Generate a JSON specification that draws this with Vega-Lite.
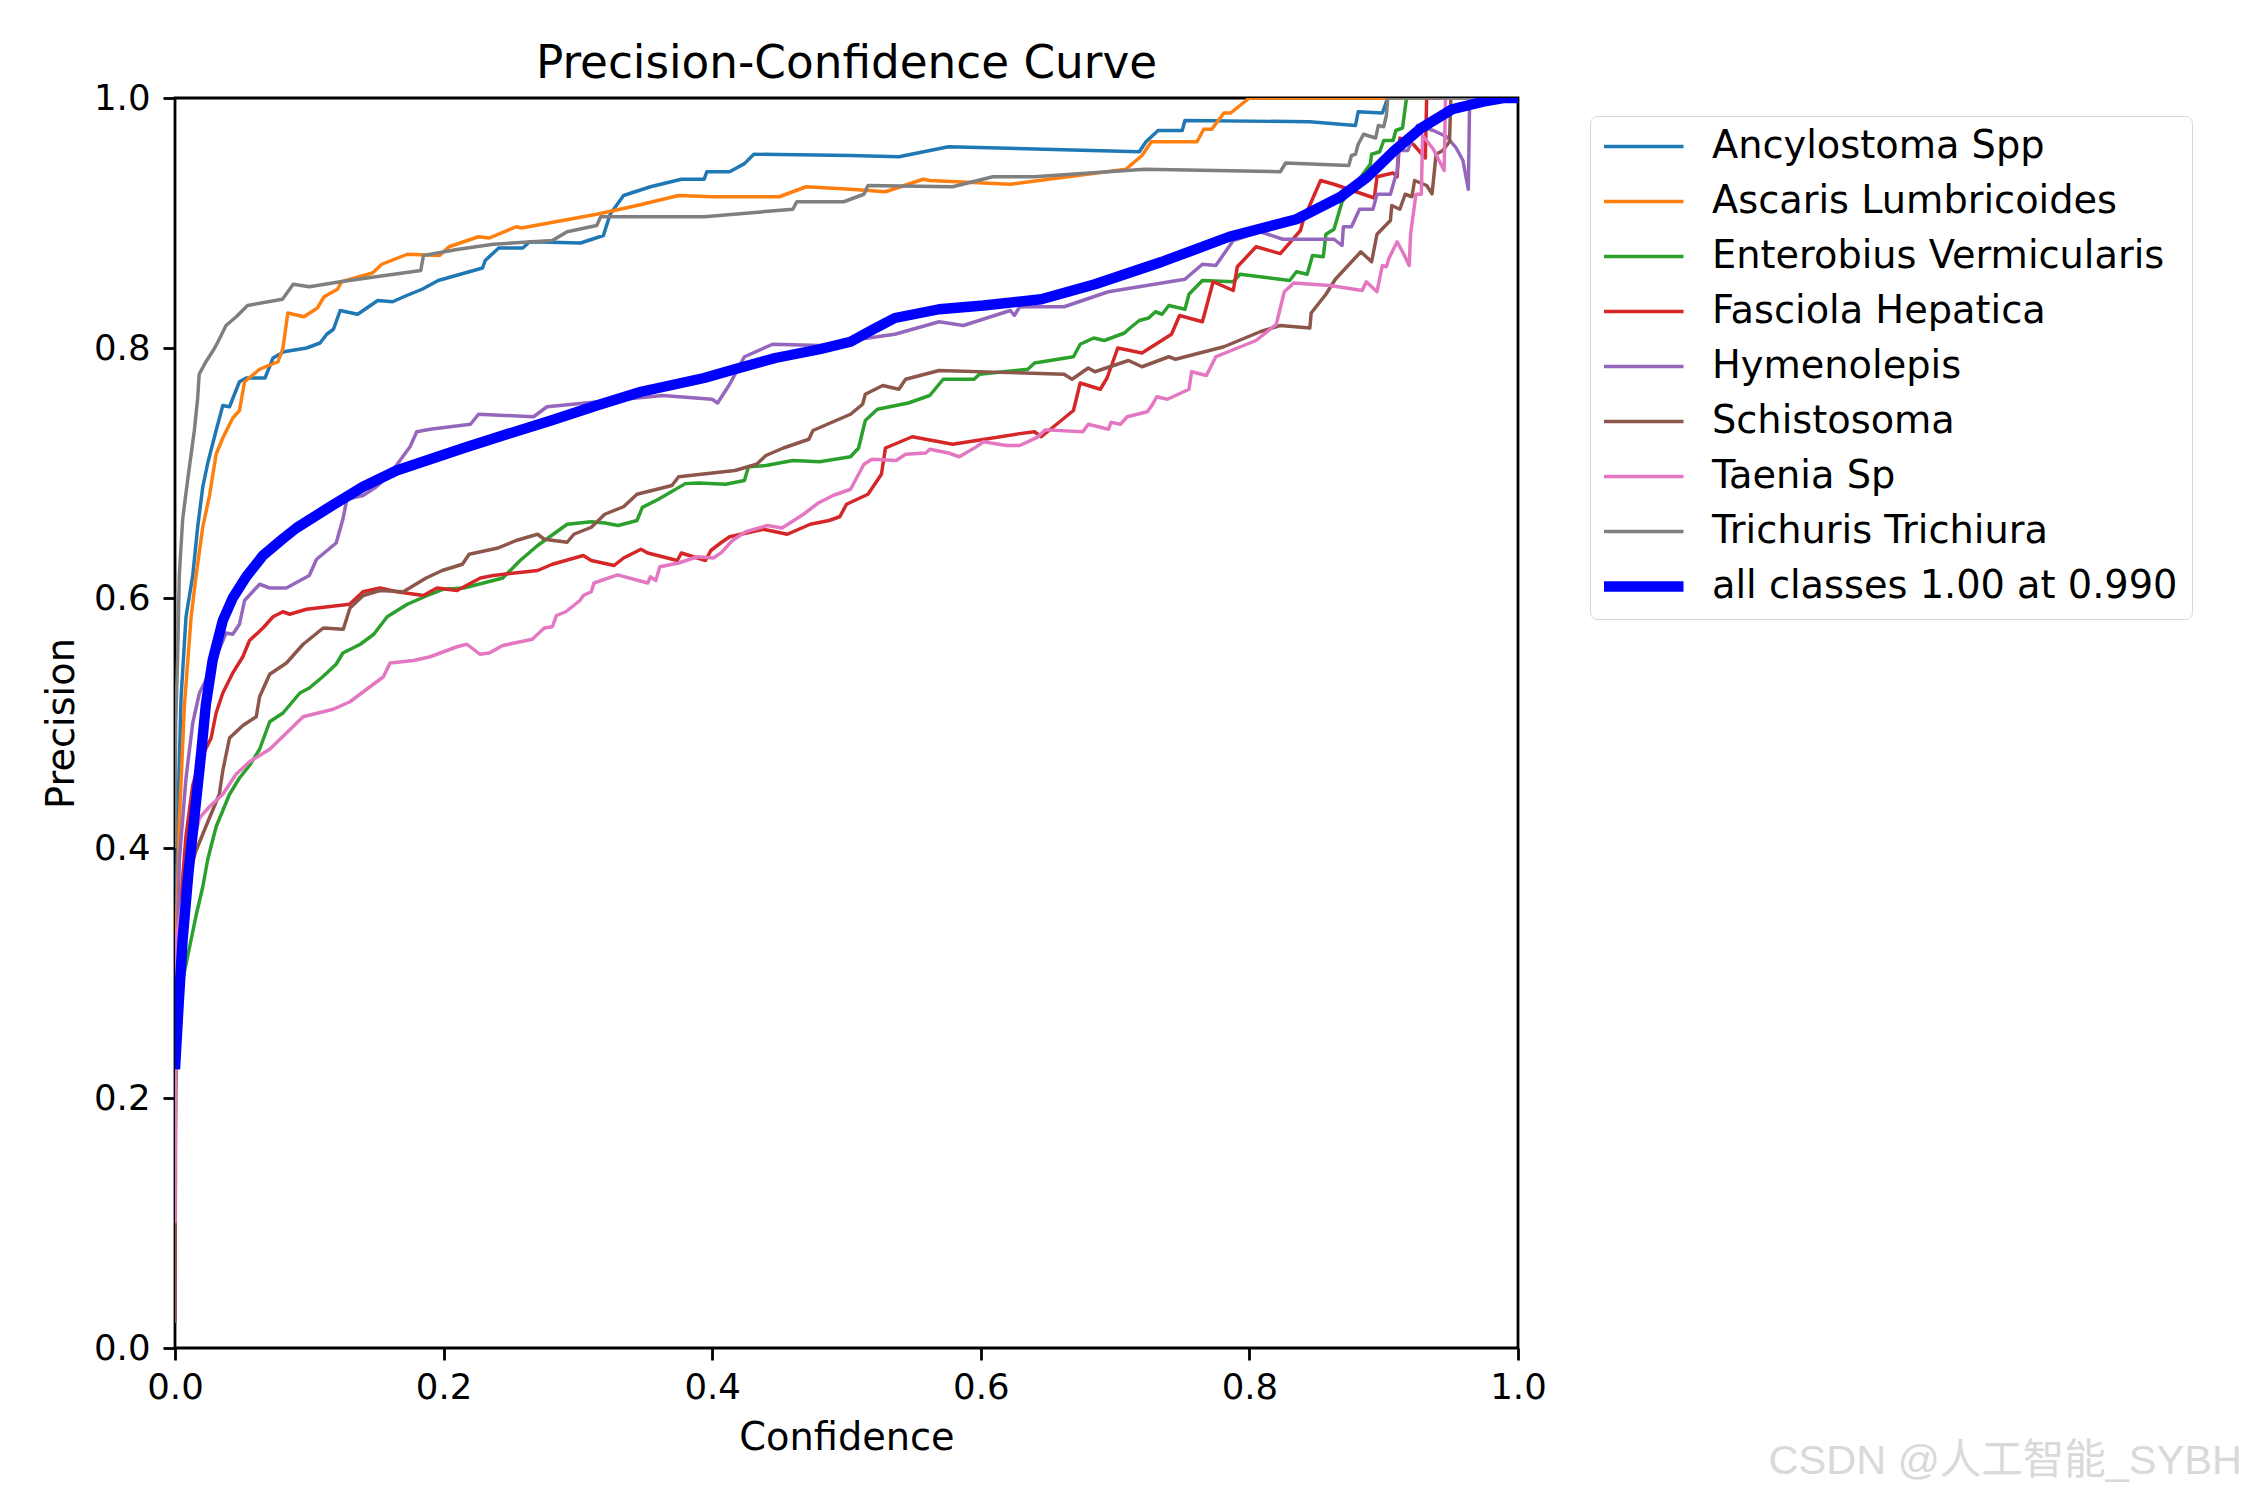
{
  "$schema": "https://vega.github.io/schema/vega-lite/v6.json",
  "width": 1343,
  "height": 1250,
  "autosize": {"type": "none"},
  "padding": {"left": 175, "top": 98, "right": 732, "bottom": 152},
  "background": "white",
  "config": {
    "view": {"stroke": "black", "strokeWidth": 2.8},
    "font": "DejaVu Sans",
    "axis": {
      "domain": false, "grid": false, "ticks": true, "tickSize": 12, "tickWidth": 2.8, "tickColor": "black",
      "labelFontSize": 35.5, "labelFont": "DejaVu Sans", "labelColor": "black",
      "titleFontSize": 38.3, "titleFont": "DejaVu Sans", "titleFontWeight": "normal", "titleColor": "black",
      "labelFlush": false
    }
  },
  "title": {"text": "Precision-Confidence Curve", "fontSize": 45.3, "fontWeight": "normal", "font": "DejaVu Sans", "color": "black", "anchor": "middle", "offset": -6},
  "datasets": {
    "curves": [
      {"cls":"Ancylostoma Spp","conf":0,"prec":0.30},{"cls":"Ancylostoma Spp","conf":0.001,"prec":0.36},{"cls":"Ancylostoma Spp","conf":0.002,"prec":0.42},{"cls":"Ancylostoma Spp","conf":0.0045,"prec":0.52},{"cls":"Ancylostoma Spp","conf":0.0082,"prec":0.585},{"cls":"Ancylostoma Spp","conf":0.0132,"prec":0.618},{"cls":"Ancylostoma Spp","conf":0.0169,"prec":0.657},{"cls":"Ancylostoma Spp","conf":0.0207,"prec":0.689},{"cls":"Ancylostoma Spp","conf":0.0244,"prec":0.708},{"cls":"Ancylostoma Spp","conf":0.0306,"prec":0.734},{"cls":"Ancylostoma Spp","conf":0.0356,"prec":0.754},{"cls":"Ancylostoma Spp","conf":0.0406,"prec":0.753},{"cls":"Ancylostoma Spp","conf":0.048,"prec":0.773},{"cls":"Ancylostoma Spp","conf":0.053,"prec":0.776},{"cls":"Ancylostoma Spp","conf":0.067,"prec":0.776},{"cls":"Ancylostoma Spp","conf":0.073,"prec":0.792},{"cls":"Ancylostoma Spp","conf":0.081,"prec":0.797},{"cls":"Ancylostoma Spp","conf":0.098,"prec":0.80},{"cls":"Ancylostoma Spp","conf":0.108,"prec":0.804},{"cls":"Ancylostoma Spp","conf":0.113,"prec":0.811},{"cls":"Ancylostoma Spp","conf":0.118,"prec":0.815},{"cls":"Ancylostoma Spp","conf":0.123,"prec":0.83},{"cls":"Ancylostoma Spp","conf":0.136,"prec":0.827},{"cls":"Ancylostoma Spp","conf":0.151,"prec":0.838},{"cls":"Ancylostoma Spp","conf":0.162,"prec":0.837},{"cls":"Ancylostoma Spp","conf":0.1725,"prec":0.842},{"cls":"Ancylostoma Spp","conf":0.184,"prec":0.847},{"cls":"Ancylostoma Spp","conf":0.196,"prec":0.854},{"cls":"Ancylostoma Spp","conf":0.229,"prec":0.864},{"cls":"Ancylostoma Spp","conf":0.231,"prec":0.87},{"cls":"Ancylostoma Spp","conf":0.241,"prec":0.88},{"cls":"Ancylostoma Spp","conf":0.259,"prec":0.88},{"cls":"Ancylostoma Spp","conf":0.264,"prec":0.885},{"cls":"Ancylostoma Spp","conf":0.302,"prec":0.884},{"cls":"Ancylostoma Spp","conf":0.319,"prec":0.89},{"cls":"Ancylostoma Spp","conf":0.324,"prec":0.907},{"cls":"Ancylostoma Spp","conf":0.334,"prec":0.922},{"cls":"Ancylostoma Spp","conf":0.354,"prec":0.929},{"cls":"Ancylostoma Spp","conf":0.377,"prec":0.935},{"cls":"Ancylostoma Spp","conf":0.394,"prec":0.935},{"cls":"Ancylostoma Spp","conf":0.396,"prec":0.941},{"cls":"Ancylostoma Spp","conf":0.413,"prec":0.941},{"cls":"Ancylostoma Spp","conf":0.424,"prec":0.9475},{"cls":"Ancylostoma Spp","conf":0.431,"prec":0.955},{"cls":"Ancylostoma Spp","conf":0.503,"prec":0.954},{"cls":"Ancylostoma Spp","conf":0.539,"prec":0.953},{"cls":"Ancylostoma Spp","conf":0.576,"prec":0.961},{"cls":"Ancylostoma Spp","conf":0.718,"prec":0.957},{"cls":"Ancylostoma Spp","conf":0.723,"prec":0.965},{"cls":"Ancylostoma Spp","conf":0.732,"prec":0.974},{"cls":"Ancylostoma Spp","conf":0.75,"prec":0.974},{"cls":"Ancylostoma Spp","conf":0.752,"prec":0.982},{"cls":"Ancylostoma Spp","conf":0.845,"prec":0.981},{"cls":"Ancylostoma Spp","conf":0.879,"prec":0.978},{"cls":"Ancylostoma Spp","conf":0.881,"prec":0.989},{"cls":"Ancylostoma Spp","conf":0.899,"prec":0.988},{"cls":"Ancylostoma Spp","conf":0.903,"prec":1.0},{"cls":"Ancylostoma Spp","conf":1.0,"prec":1.0},

      {"cls":"Ascaris Lumbricoides","conf":0,"prec":0.24},{"cls":"Ascaris Lumbricoides","conf":0.001,"prec":0.33},{"cls":"Ascaris Lumbricoides","conf":0.0032,"prec":0.42},{"cls":"Ascaris Lumbricoides","conf":0.007,"prec":0.514},{"cls":"Ascaris Lumbricoides","conf":0.012,"prec":0.585},{"cls":"Ascaris Lumbricoides","conf":0.0157,"prec":0.618},{"cls":"Ascaris Lumbricoides","conf":0.0207,"prec":0.657},{"cls":"Ascaris Lumbricoides","conf":0.0257,"prec":0.682},{"cls":"Ascaris Lumbricoides","conf":0.0306,"prec":0.715},{"cls":"Ascaris Lumbricoides","conf":0.0356,"prec":0.728},{"cls":"Ascaris Lumbricoides","conf":0.043,"prec":0.744},{"cls":"Ascaris Lumbricoides","conf":0.048,"prec":0.75},{"cls":"Ascaris Lumbricoides","conf":0.0518,"prec":0.773},{"cls":"Ascaris Lumbricoides","conf":0.063,"prec":0.783},{"cls":"Ascaris Lumbricoides","conf":0.0767,"prec":0.789},{"cls":"Ascaris Lumbricoides","conf":0.0804,"prec":0.80},{"cls":"Ascaris Lumbricoides","conf":0.084,"prec":0.828},{"cls":"Ascaris Lumbricoides","conf":0.096,"prec":0.825},{"cls":"Ascaris Lumbricoides","conf":0.106,"prec":0.832},{"cls":"Ascaris Lumbricoides","conf":0.111,"prec":0.841},{"cls":"Ascaris Lumbricoides","conf":0.121,"prec":0.847},{"cls":"Ascaris Lumbricoides","conf":0.124,"prec":0.853},{"cls":"Ascaris Lumbricoides","conf":0.147,"prec":0.86},{"cls":"Ascaris Lumbricoides","conf":0.154,"prec":0.867},{"cls":"Ascaris Lumbricoides","conf":0.173,"prec":0.875},{"cls":"Ascaris Lumbricoides","conf":0.197,"prec":0.874},{"cls":"Ascaris Lumbricoides","conf":0.204,"prec":0.881},{"cls":"Ascaris Lumbricoides","conf":0.226,"prec":0.889},{"cls":"Ascaris Lumbricoides","conf":0.234,"prec":0.888},{"cls":"Ascaris Lumbricoides","conf":0.254,"prec":0.897},{"cls":"Ascaris Lumbricoides","conf":0.258,"prec":0.896},{"cls":"Ascaris Lumbricoides","conf":0.314,"prec":0.907},{"cls":"Ascaris Lumbricoides","conf":0.344,"prec":0.914},{"cls":"Ascaris Lumbricoides","conf":0.375,"prec":0.922},{"cls":"Ascaris Lumbricoides","conf":0.40,"prec":0.921},{"cls":"Ascaris Lumbricoides","conf":0.45,"prec":0.921},{"cls":"Ascaris Lumbricoides","conf":0.47,"prec":0.929},{"cls":"Ascaris Lumbricoides","conf":0.503,"prec":0.927},{"cls":"Ascaris Lumbricoides","conf":0.529,"prec":0.925},{"cls":"Ascaris Lumbricoides","conf":0.557,"prec":0.935},{"cls":"Ascaris Lumbricoides","conf":0.562,"prec":0.934},{"cls":"Ascaris Lumbricoides","conf":0.622,"prec":0.931},{"cls":"Ascaris Lumbricoides","conf":0.708,"prec":0.943},{"cls":"Ascaris Lumbricoides","conf":0.72,"prec":0.954},{"cls":"Ascaris Lumbricoides","conf":0.727,"prec":0.965},{"cls":"Ascaris Lumbricoides","conf":0.761,"prec":0.965},{"cls":"Ascaris Lumbricoides","conf":0.766,"prec":0.975},{"cls":"Ascaris Lumbricoides","conf":0.772,"prec":0.975},{"cls":"Ascaris Lumbricoides","conf":0.781,"prec":0.988},{"cls":"Ascaris Lumbricoides","conf":0.786,"prec":0.988},{"cls":"Ascaris Lumbricoides","conf":0.80,"prec":1.0},{"cls":"Ascaris Lumbricoides","conf":1.0,"prec":1.0},

      {"cls":"Enterobius Vermicularis","conf":0,"prec":0.15},{"cls":"Enterobius Vermicularis","conf":0.0007,"prec":0.23},{"cls":"Enterobius Vermicularis","conf":0.0057,"prec":0.294},{"cls":"Enterobius Vermicularis","conf":0.0107,"prec":0.32},{"cls":"Enterobius Vermicularis","conf":0.0157,"prec":0.346},{"cls":"Enterobius Vermicularis","conf":0.0207,"prec":0.369},{"cls":"Enterobius Vermicularis","conf":0.0244,"prec":0.391},{"cls":"Enterobius Vermicularis","conf":0.0306,"prec":0.417},{"cls":"Enterobius Vermicularis","conf":0.0406,"prec":0.443},{"cls":"Enterobius Vermicularis","conf":0.048,"prec":0.456},{"cls":"Enterobius Vermicularis","conf":0.0555,"prec":0.466},{"cls":"Enterobius Vermicularis","conf":0.063,"prec":0.479},{"cls":"Enterobius Vermicularis","conf":0.0705,"prec":0.501},{"cls":"Enterobius Vermicularis","conf":0.0804,"prec":0.508},{"cls":"Enterobius Vermicularis","conf":0.093,"prec":0.524},{"cls":"Enterobius Vermicularis","conf":0.1,"prec":0.528},{"cls":"Enterobius Vermicularis","conf":0.11,"prec":0.537},{"cls":"Enterobius Vermicularis","conf":0.12,"prec":0.547},{"cls":"Enterobius Vermicularis","conf":0.125,"prec":0.556},{"cls":"Enterobius Vermicularis","conf":0.138,"prec":0.563},{"cls":"Enterobius Vermicularis","conf":0.148,"prec":0.571},{"cls":"Enterobius Vermicularis","conf":0.158,"prec":0.585},{"cls":"Enterobius Vermicularis","conf":0.173,"prec":0.595},{"cls":"Enterobius Vermicularis","conf":0.188,"prec":0.602},{"cls":"Enterobius Vermicularis","conf":0.2,"prec":0.607},{"cls":"Enterobius Vermicularis","conf":0.215,"prec":0.608},{"cls":"Enterobius Vermicularis","conf":0.237,"prec":0.614},{"cls":"Enterobius Vermicularis","conf":0.244,"prec":0.616},{"cls":"Enterobius Vermicularis","conf":0.257,"prec":0.63},{"cls":"Enterobius Vermicularis","conf":0.27,"prec":0.642},{"cls":"Enterobius Vermicularis","conf":0.292,"prec":0.659},{"cls":"Enterobius Vermicularis","conf":0.31,"prec":0.661},{"cls":"Enterobius Vermicularis","conf":0.32,"prec":0.66},{"cls":"Enterobius Vermicularis","conf":0.33,"prec":0.658},{"cls":"Enterobius Vermicularis","conf":0.344,"prec":0.662},{"cls":"Enterobius Vermicularis","conf":0.348,"prec":0.6725},{"cls":"Enterobius Vermicularis","conf":0.36,"prec":0.679},{"cls":"Enterobius Vermicularis","conf":0.38,"prec":0.6915},{"cls":"Enterobius Vermicularis","conf":0.39,"prec":0.692},{"cls":"Enterobius Vermicularis","conf":0.41,"prec":0.691},{"cls":"Enterobius Vermicularis","conf":0.424,"prec":0.694},{"cls":"Enterobius Vermicularis","conf":0.427,"prec":0.705},{"cls":"Enterobius Vermicularis","conf":0.44,"prec":0.706},{"cls":"Enterobius Vermicularis","conf":0.46,"prec":0.71},{"cls":"Enterobius Vermicularis","conf":0.48,"prec":0.709},{"cls":"Enterobius Vermicularis","conf":0.503,"prec":0.713},{"cls":"Enterobius Vermicularis","conf":0.509,"prec":0.72},{"cls":"Enterobius Vermicularis","conf":0.514,"prec":0.742},{"cls":"Enterobius Vermicularis","conf":0.523,"prec":0.751},{"cls":"Enterobius Vermicularis","conf":0.546,"prec":0.756},{"cls":"Enterobius Vermicularis","conf":0.562,"prec":0.762},{"cls":"Enterobius Vermicularis","conf":0.572,"prec":0.775},{"cls":"Enterobius Vermicularis","conf":0.595,"prec":0.775},{"cls":"Enterobius Vermicularis","conf":0.599,"prec":0.779},{"cls":"Enterobius Vermicularis","conf":0.635,"prec":0.783},{"cls":"Enterobius Vermicularis","conf":0.64,"prec":0.788},{"cls":"Enterobius Vermicularis","conf":0.669,"prec":0.793},{"cls":"Enterobius Vermicularis","conf":0.674,"prec":0.803},{"cls":"Enterobius Vermicularis","conf":0.684,"prec":0.808},{"cls":"Enterobius Vermicularis","conf":0.692,"prec":0.806},{"cls":"Enterobius Vermicularis","conf":0.707,"prec":0.812},{"cls":"Enterobius Vermicularis","conf":0.71,"prec":0.815},{"cls":"Enterobius Vermicularis","conf":0.718,"prec":0.822},{"cls":"Enterobius Vermicularis","conf":0.725,"prec":0.824},{"cls":"Enterobius Vermicularis","conf":0.73,"prec":0.829},{"cls":"Enterobius Vermicularis","conf":0.735,"prec":0.827},{"cls":"Enterobius Vermicularis","conf":0.74,"prec":0.834},{"cls":"Enterobius Vermicularis","conf":0.752,"prec":0.831},{"cls":"Enterobius Vermicularis","conf":0.755,"prec":0.843},{"cls":"Enterobius Vermicularis","conf":0.765,"prec":0.854},{"cls":"Enterobius Vermicularis","conf":0.788,"prec":0.853},{"cls":"Enterobius Vermicularis","conf":0.793,"prec":0.859},{"cls":"Enterobius Vermicularis","conf":0.83,"prec":0.854},{"cls":"Enterobius Vermicularis","conf":0.835,"prec":0.861},{"cls":"Enterobius Vermicularis","conf":0.843,"prec":0.859},{"cls":"Enterobius Vermicularis","conf":0.847,"prec":0.874},{"cls":"Enterobius Vermicularis","conf":0.855,"prec":0.873},{"cls":"Enterobius Vermicularis","conf":0.857,"prec":0.891},{"cls":"Enterobius Vermicularis","conf":0.863,"prec":0.895},{"cls":"Enterobius Vermicularis","conf":0.869,"prec":0.917},{"cls":"Enterobius Vermicularis","conf":0.89,"prec":0.947},{"cls":"Enterobius Vermicularis","conf":0.891,"prec":0.955},{"cls":"Enterobius Vermicularis","conf":0.897,"prec":0.957},{"cls":"Enterobius Vermicularis","conf":0.9,"prec":0.966},{"cls":"Enterobius Vermicularis","conf":0.907,"prec":0.966},{"cls":"Enterobius Vermicularis","conf":0.909,"prec":0.974},{"cls":"Enterobius Vermicularis","conf":0.914,"prec":0.976},{"cls":"Enterobius Vermicularis","conf":0.917,"prec":1.0},{"cls":"Enterobius Vermicularis","conf":1.0,"prec":1.0},

      {"cls":"Fasciola Hepatica","conf":0,"prec":0.18},{"cls":"Fasciola Hepatica","conf":0.0007,"prec":0.262},{"cls":"Fasciola Hepatica","conf":0.0045,"prec":0.359},{"cls":"Fasciola Hepatica","conf":0.0082,"prec":0.41},{"cls":"Fasciola Hepatica","conf":0.0132,"prec":0.45},{"cls":"Fasciola Hepatica","conf":0.0182,"prec":0.469},{"cls":"Fasciola Hepatica","conf":0.0269,"prec":0.488},{"cls":"Fasciola Hepatica","conf":0.0306,"prec":0.508},{"cls":"Fasciola Hepatica","conf":0.0356,"prec":0.524},{"cls":"Fasciola Hepatica","conf":0.043,"prec":0.54},{"cls":"Fasciola Hepatica","conf":0.0505,"prec":0.553},{"cls":"Fasciola Hepatica","conf":0.0555,"prec":0.566},{"cls":"Fasciola Hepatica","conf":0.0655,"prec":0.576},{"cls":"Fasciola Hepatica","conf":0.073,"prec":0.585},{"cls":"Fasciola Hepatica","conf":0.0804,"prec":0.589},{"cls":"Fasciola Hepatica","conf":0.0854,"prec":0.587},{"cls":"Fasciola Hepatica","conf":0.0979,"prec":0.591},{"cls":"Fasciola Hepatica","conf":0.13,"prec":0.595},{"cls":"Fasciola Hepatica","conf":0.14,"prec":0.605},{"cls":"Fasciola Hepatica","conf":0.1527,"prec":0.608},{"cls":"Fasciola Hepatica","conf":0.165,"prec":0.605},{"cls":"Fasciola Hepatica","conf":0.185,"prec":0.602},{"cls":"Fasciola Hepatica","conf":0.195,"prec":0.608},{"cls":"Fasciola Hepatica","conf":0.21,"prec":0.606},{"cls":"Fasciola Hepatica","conf":0.2274,"prec":0.616},{"cls":"Fasciola Hepatica","conf":0.237,"prec":0.618},{"cls":"Fasciola Hepatica","conf":0.27,"prec":0.622},{"cls":"Fasciola Hepatica","conf":0.281,"prec":0.627},{"cls":"Fasciola Hepatica","conf":0.304,"prec":0.634},{"cls":"Fasciola Hepatica","conf":0.31,"prec":0.63},{"cls":"Fasciola Hepatica","conf":0.327,"prec":0.626},{"cls":"Fasciola Hepatica","conf":0.334,"prec":0.632},{"cls":"Fasciola Hepatica","conf":0.347,"prec":0.639},{"cls":"Fasciola Hepatica","conf":0.352,"prec":0.636},{"cls":"Fasciola Hepatica","conf":0.374,"prec":0.63},{"cls":"Fasciola Hepatica","conf":0.377,"prec":0.636},{"cls":"Fasciola Hepatica","conf":0.395,"prec":0.63},{"cls":"Fasciola Hepatica","conf":0.399,"prec":0.638},{"cls":"Fasciola Hepatica","conf":0.407,"prec":0.6446},{"cls":"Fasciola Hepatica","conf":0.413,"prec":0.649},{"cls":"Fasciola Hepatica","conf":0.438,"prec":0.655},{"cls":"Fasciola Hepatica","conf":0.456,"prec":0.651},{"cls":"Fasciola Hepatica","conf":0.473,"prec":0.659},{"cls":"Fasciola Hepatica","conf":0.487,"prec":0.662},{"cls":"Fasciola Hepatica","conf":0.495,"prec":0.665},{"cls":"Fasciola Hepatica","conf":0.5,"prec":0.675},{"cls":"Fasciola Hepatica","conf":0.516,"prec":0.683},{"cls":"Fasciola Hepatica","conf":0.526,"prec":0.699},{"cls":"Fasciola Hepatica","conf":0.529,"prec":0.72},{"cls":"Fasciola Hepatica","conf":0.549,"prec":0.729},{"cls":"Fasciola Hepatica","conf":0.579,"prec":0.723},{"cls":"Fasciola Hepatica","conf":0.629,"prec":0.7315},{"cls":"Fasciola Hepatica","conf":0.64,"prec":0.733},{"cls":"Fasciola Hepatica","conf":0.645,"prec":0.729},{"cls":"Fasciola Hepatica","conf":0.669,"prec":0.75},{"cls":"Fasciola Hepatica","conf":0.674,"prec":0.772},{"cls":"Fasciola Hepatica","conf":0.689,"prec":0.767},{"cls":"Fasciola Hepatica","conf":0.694,"prec":0.776},{"cls":"Fasciola Hepatica","conf":0.702,"prec":0.80},{"cls":"Fasciola Hepatica","conf":0.72,"prec":0.796},{"cls":"Fasciola Hepatica","conf":0.742,"prec":0.811},{"cls":"Fasciola Hepatica","conf":0.748,"prec":0.826},{"cls":"Fasciola Hepatica","conf":0.765,"prec":0.821},{"cls":"Fasciola Hepatica","conf":0.773,"prec":0.853},{"cls":"Fasciola Hepatica","conf":0.788,"prec":0.846},{"cls":"Fasciola Hepatica","conf":0.791,"prec":0.865},{"cls":"Fasciola Hepatica","conf":0.805,"prec":0.881},{"cls":"Fasciola Hepatica","conf":0.823,"prec":0.8755},{"cls":"Fasciola Hepatica","conf":0.838,"prec":0.894},{"cls":"Fasciola Hepatica","conf":0.84,"prec":0.902},{"cls":"Fasciola Hepatica","conf":0.853,"prec":0.934},{"cls":"Fasciola Hepatica","conf":0.863,"prec":0.931},{"cls":"Fasciola Hepatica","conf":0.893,"prec":0.92},{"cls":"Fasciola Hepatica","conf":0.895,"prec":0.937},{"cls":"Fasciola Hepatica","conf":0.907,"prec":0.94},{"cls":"Fasciola Hepatica","conf":0.91,"prec":0.937},{"cls":"Fasciola Hepatica","conf":0.912,"prec":0.968},{"cls":"Fasciola Hepatica","conf":0.922,"prec":0.963},{"cls":"Fasciola Hepatica","conf":0.931,"prec":0.952},{"cls":"Fasciola Hepatica","conf":0.932,"prec":1.0},{"cls":"Fasciola Hepatica","conf":1.0,"prec":1.0},

      {"cls":"Hymenolepis","conf":0,"prec":0.22},{"cls":"Hymenolepis","conf":0.0032,"prec":0.39},{"cls":"Hymenolepis","conf":0.0082,"prec":0.456},{"cls":"Hymenolepis","conf":0.0132,"prec":0.50},{"cls":"Hymenolepis","conf":0.0182,"prec":0.524},{"cls":"Hymenolepis","conf":0.0256,"prec":0.54},{"cls":"Hymenolepis","conf":0.038,"prec":0.572},{"cls":"Hymenolepis","conf":0.043,"prec":0.571},{"cls":"Hymenolepis","conf":0.048,"prec":0.579},{"cls":"Hymenolepis","conf":0.0518,"prec":0.598},{"cls":"Hymenolepis","conf":0.063,"prec":0.611},{"cls":"Hymenolepis","conf":0.0705,"prec":0.608},{"cls":"Hymenolepis","conf":0.0829,"prec":0.608},{"cls":"Hymenolepis","conf":0.1,"prec":0.618},{"cls":"Hymenolepis","conf":0.1054,"prec":0.631},{"cls":"Hymenolepis","conf":0.12,"prec":0.644},{"cls":"Hymenolepis","conf":0.125,"prec":0.663},{"cls":"Hymenolepis","conf":0.128,"prec":0.679},{"cls":"Hymenolepis","conf":0.14,"prec":0.682},{"cls":"Hymenolepis","conf":0.15,"prec":0.689},{"cls":"Hymenolepis","conf":0.16,"prec":0.699},{"cls":"Hymenolepis","conf":0.175,"prec":0.721},{"cls":"Hymenolepis","conf":0.18,"prec":0.733},{"cls":"Hymenolepis","conf":0.19,"prec":0.735},{"cls":"Hymenolepis","conf":0.22,"prec":0.739},{"cls":"Hymenolepis","conf":0.226,"prec":0.747},{"cls":"Hymenolepis","conf":0.267,"prec":0.745},{"cls":"Hymenolepis","conf":0.277,"prec":0.753},{"cls":"Hymenolepis","conf":0.363,"prec":0.762},{"cls":"Hymenolepis","conf":0.40,"prec":0.759},{"cls":"Hymenolepis","conf":0.404,"prec":0.756},{"cls":"Hymenolepis","conf":0.413,"prec":0.771},{"cls":"Hymenolepis","conf":0.424,"prec":0.793},{"cls":"Hymenolepis","conf":0.445,"prec":0.803},{"cls":"Hymenolepis","conf":0.48,"prec":0.802},{"cls":"Hymenolepis","conf":0.503,"prec":0.806},{"cls":"Hymenolepis","conf":0.536,"prec":0.811},{"cls":"Hymenolepis","conf":0.569,"prec":0.821},{"cls":"Hymenolepis","conf":0.587,"prec":0.818},{"cls":"Hymenolepis","conf":0.622,"prec":0.83},{"cls":"Hymenolepis","conf":0.625,"prec":0.826},{"cls":"Hymenolepis","conf":0.629,"prec":0.833},{"cls":"Hymenolepis","conf":0.662,"prec":0.833},{"cls":"Hymenolepis","conf":0.695,"prec":0.845},{"cls":"Hymenolepis","conf":0.752,"prec":0.855},{"cls":"Hymenolepis","conf":0.765,"prec":0.867},{"cls":"Hymenolepis","conf":0.775,"prec":0.866},{"cls":"Hymenolepis","conf":0.788,"prec":0.886},{"cls":"Hymenolepis","conf":0.808,"prec":0.893},{"cls":"Hymenolepis","conf":0.825,"prec":0.887},{"cls":"Hymenolepis","conf":0.863,"prec":0.887},{"cls":"Hymenolepis","conf":0.869,"prec":0.882},{"cls":"Hymenolepis","conf":0.87,"prec":0.897},{"cls":"Hymenolepis","conf":0.876,"prec":0.897},{"cls":"Hymenolepis","conf":0.882,"prec":0.911},{"cls":"Hymenolepis","conf":0.892,"prec":0.911},{"cls":"Hymenolepis","conf":0.895,"prec":0.923},{"cls":"Hymenolepis","conf":0.905,"prec":0.923},{"cls":"Hymenolepis","conf":0.91,"prec":0.942},{"cls":"Hymenolepis","conf":0.911,"prec":0.958},{"cls":"Hymenolepis","conf":0.918,"prec":0.958},{"cls":"Hymenolepis","conf":0.925,"prec":0.978},{"cls":"Hymenolepis","conf":0.937,"prec":0.974},{"cls":"Hymenolepis","conf":0.947,"prec":0.969},{"cls":"Hymenolepis","conf":0.954,"prec":0.96},{"cls":"Hymenolepis","conf":0.959,"prec":0.95},{"cls":"Hymenolepis","conf":0.963,"prec":0.927},{"cls":"Hymenolepis","conf":0.964,"prec":1.0},{"cls":"Hymenolepis","conf":1.0,"prec":1.0},

      {"cls":"Schistosoma","conf":0,"prec":0.02},{"cls":"Schistosoma","conf":0.0005,"prec":0.2},{"cls":"Schistosoma","conf":0.0009,"prec":0.294},{"cls":"Schistosoma","conf":0.0082,"prec":0.372},{"cls":"Schistosoma","conf":0.0157,"prec":0.398},{"cls":"Schistosoma","conf":0.0256,"prec":0.424},{"cls":"Schistosoma","conf":0.033,"prec":0.443},{"cls":"Schistosoma","conf":0.0356,"prec":0.462},{"cls":"Schistosoma","conf":0.0406,"prec":0.488},{"cls":"Schistosoma","conf":0.0505,"prec":0.498},{"cls":"Schistosoma","conf":0.0605,"prec":0.505},{"cls":"Schistosoma","conf":0.063,"prec":0.521},{"cls":"Schistosoma","conf":0.0705,"prec":0.539},{"cls":"Schistosoma","conf":0.083,"prec":0.548},{"cls":"Schistosoma","conf":0.0954,"prec":0.563},{"cls":"Schistosoma","conf":0.1104,"prec":0.576},{"cls":"Schistosoma","conf":0.1253,"prec":0.575},{"cls":"Schistosoma","conf":0.1303,"prec":0.592},{"cls":"Schistosoma","conf":0.1402,"prec":0.602},{"cls":"Schistosoma","conf":0.1527,"prec":0.606},{"cls":"Schistosoma","conf":0.17,"prec":0.605},{"cls":"Schistosoma","conf":0.187,"prec":0.616},{"cls":"Schistosoma","conf":0.199,"prec":0.622},{"cls":"Schistosoma","conf":0.214,"prec":0.627},{"cls":"Schistosoma","conf":0.219,"prec":0.635},{"cls":"Schistosoma","conf":0.2405,"prec":0.64},{"cls":"Schistosoma","conf":0.254,"prec":0.646},{"cls":"Schistosoma","conf":0.27,"prec":0.651},{"cls":"Schistosoma","conf":0.275,"prec":0.647},{"cls":"Schistosoma","conf":0.292,"prec":0.6446},{"cls":"Schistosoma","conf":0.297,"prec":0.651},{"cls":"Schistosoma","conf":0.31,"prec":0.6566},{"cls":"Schistosoma","conf":0.32,"prec":0.667},{"cls":"Schistosoma","conf":0.334,"prec":0.673},{"cls":"Schistosoma","conf":0.344,"prec":0.683},{"cls":"Schistosoma","conf":0.37,"prec":0.69},{"cls":"Schistosoma","conf":0.375,"prec":0.697},{"cls":"Schistosoma","conf":0.417,"prec":0.702},{"cls":"Schistosoma","conf":0.433,"prec":0.707},{"cls":"Schistosoma","conf":0.44,"prec":0.714},{"cls":"Schistosoma","conf":0.453,"prec":0.72},{"cls":"Schistosoma","conf":0.472,"prec":0.727},{"cls":"Schistosoma","conf":0.475,"prec":0.734},{"cls":"Schistosoma","conf":0.503,"prec":0.747},{"cls":"Schistosoma","conf":0.512,"prec":0.755},{"cls":"Schistosoma","conf":0.514,"prec":0.763},{"cls":"Schistosoma","conf":0.527,"prec":0.77},{"cls":"Schistosoma","conf":0.539,"prec":0.767},{"cls":"Schistosoma","conf":0.544,"prec":0.775},{"cls":"Schistosoma","conf":0.569,"prec":0.782},{"cls":"Schistosoma","conf":0.662,"prec":0.779},{"cls":"Schistosoma","conf":0.668,"prec":0.775},{"cls":"Schistosoma","conf":0.68,"prec":0.784},{"cls":"Schistosoma","conf":0.685,"prec":0.781},{"cls":"Schistosoma","conf":0.71,"prec":0.79},{"cls":"Schistosoma","conf":0.72,"prec":0.785},{"cls":"Schistosoma","conf":0.74,"prec":0.793},{"cls":"Schistosoma","conf":0.745,"prec":0.791},{"cls":"Schistosoma","conf":0.781,"prec":0.801},{"cls":"Schistosoma","conf":0.808,"prec":0.813},{"cls":"Schistosoma","conf":0.823,"prec":0.818},{"cls":"Schistosoma","conf":0.845,"prec":0.816},{"cls":"Schistosoma","conf":0.846,"prec":0.828},{"cls":"Schistosoma","conf":0.857,"prec":0.843},{"cls":"Schistosoma","conf":0.864,"prec":0.855},{"cls":"Schistosoma","conf":0.883,"prec":0.877},{"cls":"Schistosoma","conf":0.891,"prec":0.869},{"cls":"Schistosoma","conf":0.895,"prec":0.891},{"cls":"Schistosoma","conf":0.905,"prec":0.902},{"cls":"Schistosoma","conf":0.906,"prec":0.914},{"cls":"Schistosoma","conf":0.912,"prec":0.911},{"cls":"Schistosoma","conf":0.916,"prec":0.923},{"cls":"Schistosoma","conf":0.921,"prec":0.921},{"cls":"Schistosoma","conf":0.923,"prec":0.934},{"cls":"Schistosoma","conf":0.932,"prec":0.93},{"cls":"Schistosoma","conf":0.936,"prec":0.9233},{"cls":"Schistosoma","conf":0.939,"prec":0.955},{"cls":"Schistosoma","conf":0.944,"prec":0.958},{"cls":"Schistosoma","conf":0.949,"prec":0.965},{"cls":"Schistosoma","conf":0.95,"prec":1.0},{"cls":"Schistosoma","conf":1.0,"prec":1.0},

      {"cls":"Taenia Sp","conf":0,"prec":0.1},{"cls":"Taenia Sp","conf":0.0007,"prec":0.327},{"cls":"Taenia Sp","conf":0.0107,"prec":0.391},{"cls":"Taenia Sp","conf":0.0182,"prec":0.424},{"cls":"Taenia Sp","conf":0.0256,"prec":0.433},{"cls":"Taenia Sp","conf":0.0356,"prec":0.443},{"cls":"Taenia Sp","conf":0.0455,"prec":0.459},{"cls":"Taenia Sp","conf":0.0555,"prec":0.469},{"cls":"Taenia Sp","conf":0.0705,"prec":0.479},{"cls":"Taenia Sp","conf":0.083,"prec":0.492},{"cls":"Taenia Sp","conf":0.0954,"prec":0.505},{"cls":"Taenia Sp","conf":0.1178,"prec":0.511},{"cls":"Taenia Sp","conf":0.1303,"prec":0.517},{"cls":"Taenia Sp","conf":0.1427,"prec":0.527},{"cls":"Taenia Sp","conf":0.1552,"prec":0.537},{"cls":"Taenia Sp","conf":0.1601,"prec":0.548},{"cls":"Taenia Sp","conf":0.1776,"prec":0.55},{"cls":"Taenia Sp","conf":0.19,"prec":0.553},{"cls":"Taenia Sp","conf":0.21,"prec":0.561},{"cls":"Taenia Sp","conf":0.2174,"prec":0.563},{"cls":"Taenia Sp","conf":0.227,"prec":0.555},{"cls":"Taenia Sp","conf":0.234,"prec":0.556},{"cls":"Taenia Sp","conf":0.244,"prec":0.562},{"cls":"Taenia Sp","conf":0.266,"prec":0.567},{"cls":"Taenia Sp","conf":0.275,"prec":0.576},{"cls":"Taenia Sp","conf":0.281,"prec":0.577},{"cls":"Taenia Sp","conf":0.284,"prec":0.586},{"cls":"Taenia Sp","conf":0.291,"prec":0.589},{"cls":"Taenia Sp","conf":0.3015,"prec":0.598},{"cls":"Taenia Sp","conf":0.304,"prec":0.602},{"cls":"Taenia Sp","conf":0.31,"prec":0.605},{"cls":"Taenia Sp","conf":0.312,"prec":0.612},{"cls":"Taenia Sp","conf":0.3295,"prec":0.6185},{"cls":"Taenia Sp","conf":0.352,"prec":0.612},{"cls":"Taenia Sp","conf":0.354,"prec":0.617},{"cls":"Taenia Sp","conf":0.358,"prec":0.614},{"cls":"Taenia Sp","conf":0.361,"prec":0.625},{"cls":"Taenia Sp","conf":0.375,"prec":0.628},{"cls":"Taenia Sp","conf":0.389,"prec":0.633},{"cls":"Taenia Sp","conf":0.401,"prec":0.632},{"cls":"Taenia Sp","conf":0.407,"prec":0.6365},{"cls":"Taenia Sp","conf":0.415,"prec":0.646},{"cls":"Taenia Sp","conf":0.425,"prec":0.653},{"cls":"Taenia Sp","conf":0.441,"prec":0.658},{"cls":"Taenia Sp","conf":0.452,"prec":0.656},{"cls":"Taenia Sp","conf":0.468,"prec":0.667},{"cls":"Taenia Sp","conf":0.479,"prec":0.676},{"cls":"Taenia Sp","conf":0.49,"prec":0.682},{"cls":"Taenia Sp","conf":0.503,"prec":0.687},{"cls":"Taenia Sp","conf":0.513,"prec":0.707},{"cls":"Taenia Sp","conf":0.519,"prec":0.711},{"cls":"Taenia Sp","conf":0.537,"prec":0.71},{"cls":"Taenia Sp","conf":0.544,"prec":0.715},{"cls":"Taenia Sp","conf":0.559,"prec":0.716},{"cls":"Taenia Sp","conf":0.562,"prec":0.719},{"cls":"Taenia Sp","conf":0.576,"prec":0.716},{"cls":"Taenia Sp","conf":0.584,"prec":0.713},{"cls":"Taenia Sp","conf":0.596,"prec":0.7205},{"cls":"Taenia Sp","conf":0.602,"prec":0.725},{"cls":"Taenia Sp","conf":0.619,"prec":0.722},{"cls":"Taenia Sp","conf":0.629,"prec":0.722},{"cls":"Taenia Sp","conf":0.642,"prec":0.7285},{"cls":"Taenia Sp","conf":0.648,"prec":0.7345},{"cls":"Taenia Sp","conf":0.676,"prec":0.733},{"cls":"Taenia Sp","conf":0.68,"prec":0.739},{"cls":"Taenia Sp","conf":0.695,"prec":0.735},{"cls":"Taenia Sp","conf":0.697,"prec":0.7405},{"cls":"Taenia Sp","conf":0.704,"prec":0.739},{"cls":"Taenia Sp","conf":0.709,"prec":0.745},{"cls":"Taenia Sp","conf":0.724,"prec":0.749},{"cls":"Taenia Sp","conf":0.728,"prec":0.755},{"cls":"Taenia Sp","conf":0.731,"prec":0.761},{"cls":"Taenia Sp","conf":0.739,"prec":0.759},{"cls":"Taenia Sp","conf":0.755,"prec":0.767},{"cls":"Taenia Sp","conf":0.757,"prec":0.781},{"cls":"Taenia Sp","conf":0.768,"prec":0.778},{"cls":"Taenia Sp","conf":0.775,"prec":0.793},{"cls":"Taenia Sp","conf":0.805,"prec":0.806},{"cls":"Taenia Sp","conf":0.82,"prec":0.819},{"cls":"Taenia Sp","conf":0.826,"prec":0.845},{"cls":"Taenia Sp","conf":0.833,"prec":0.852},{"cls":"Taenia Sp","conf":0.86,"prec":0.85},{"cls":"Taenia Sp","conf":0.884,"prec":0.846},{"cls":"Taenia Sp","conf":0.887,"prec":0.853},{"cls":"Taenia Sp","conf":0.895,"prec":0.845},{"cls":"Taenia Sp","conf":0.899,"prec":0.866},{"cls":"Taenia Sp","conf":0.902,"prec":0.865},{"cls":"Taenia Sp","conf":0.904,"prec":0.872},{"cls":"Taenia Sp","conf":0.91,"prec":0.885},{"cls":"Taenia Sp","conf":0.915,"prec":0.875},{"cls":"Taenia Sp","conf":0.919,"prec":0.866},{"cls":"Taenia Sp","conf":0.92,"prec":0.891},{"cls":"Taenia Sp","conf":0.924,"prec":0.923},{"cls":"Taenia Sp","conf":0.928,"prec":0.923},{"cls":"Taenia Sp","conf":0.929,"prec":0.97},{"cls":"Taenia Sp","conf":0.937,"prec":0.959},{"cls":"Taenia Sp","conf":0.945,"prec":0.942},{"cls":"Taenia Sp","conf":0.946,"prec":1.0},{"cls":"Taenia Sp","conf":1.0,"prec":1.0},

      {"cls":"Trichuris Trichiura","conf":0,"prec":0.4},{"cls":"Trichuris Trichiura","conf":0.0005,"prec":0.5},{"cls":"Trichuris Trichiura","conf":0.002,"prec":0.553},{"cls":"Trichuris Trichiura","conf":0.0032,"prec":0.618},{"cls":"Trichuris Trichiura","conf":0.0057,"prec":0.663},{"cls":"Trichuris Trichiura","conf":0.0095,"prec":0.695},{"cls":"Trichuris Trichiura","conf":0.0144,"prec":0.734},{"cls":"Trichuris Trichiura","conf":0.0169,"prec":0.76},{"cls":"Trichuris Trichiura","conf":0.018,"prec":0.779},{"cls":"Trichuris Trichiura","conf":0.023,"prec":0.789},{"cls":"Trichuris Trichiura","conf":0.029,"prec":0.799},{"cls":"Trichuris Trichiura","conf":0.032,"prec":0.805},{"cls":"Trichuris Trichiura","conf":0.038,"prec":0.818},{"cls":"Trichuris Trichiura","conf":0.0456,"prec":0.825},{"cls":"Trichuris Trichiura","conf":0.054,"prec":0.834},{"cls":"Trichuris Trichiura","conf":0.08,"prec":0.839},{"cls":"Trichuris Trichiura","conf":0.088,"prec":0.851},{"cls":"Trichuris Trichiura","conf":0.1,"prec":0.849},{"cls":"Trichuris Trichiura","conf":0.123,"prec":0.853},{"cls":"Trichuris Trichiura","conf":0.183,"prec":0.862},{"cls":"Trichuris Trichiura","conf":0.185,"prec":0.874},{"cls":"Trichuris Trichiura","conf":0.211,"prec":0.879},{"cls":"Trichuris Trichiura","conf":0.237,"prec":0.883},{"cls":"Trichuris Trichiura","conf":0.281,"prec":0.886},{"cls":"Trichuris Trichiura","conf":0.292,"prec":0.893},{"cls":"Trichuris Trichiura","conf":0.314,"prec":0.898},{"cls":"Trichuris Trichiura","conf":0.317,"prec":0.905},{"cls":"Trichuris Trichiura","conf":0.394,"prec":0.905},{"cls":"Trichuris Trichiura","conf":0.46,"prec":0.911},{"cls":"Trichuris Trichiura","conf":0.463,"prec":0.917},{"cls":"Trichuris Trichiura","conf":0.498,"prec":0.917},{"cls":"Trichuris Trichiura","conf":0.503,"prec":0.919},{"cls":"Trichuris Trichiura","conf":0.513,"prec":0.923},{"cls":"Trichuris Trichiura","conf":0.516,"prec":0.93},{"cls":"Trichuris Trichiura","conf":0.579,"prec":0.929},{"cls":"Trichuris Trichiura","conf":0.609,"prec":0.937},{"cls":"Trichuris Trichiura","conf":0.64,"prec":0.937},{"cls":"Trichuris Trichiura","conf":0.722,"prec":0.943},{"cls":"Trichuris Trichiura","conf":0.823,"prec":0.941},{"cls":"Trichuris Trichiura","conf":0.827,"prec":0.948},{"cls":"Trichuris Trichiura","conf":0.874,"prec":0.946},{"cls":"Trichuris Trichiura","conf":0.876,"prec":0.954},{"cls":"Trichuris Trichiura","conf":0.879,"prec":0.955},{"cls":"Trichuris Trichiura","conf":0.881,"prec":0.963},{"cls":"Trichuris Trichiura","conf":0.885,"prec":0.971},{"cls":"Trichuris Trichiura","conf":0.894,"prec":0.968},{"cls":"Trichuris Trichiura","conf":0.896,"prec":0.978},{"cls":"Trichuris Trichiura","conf":0.9,"prec":0.977},{"cls":"Trichuris Trichiura","conf":0.902,"prec":0.986},{"cls":"Trichuris Trichiura","conf":0.903,"prec":1.0},{"cls":"Trichuris Trichiura","conf":1.0,"prec":1.0},

      {"cls":"all classes 1.00 at 0.990","conf":0,"prec":0.223},{"cls":"all classes 1.00 at 0.990","conf":0.003,"prec":0.28},{"cls":"all classes 1.00 at 0.990","conf":0.0057,"prec":0.327},{"cls":"all classes 1.00 at 0.990","conf":0.01,"prec":0.38},{"cls":"all classes 1.00 at 0.990","conf":0.013,"prec":0.41},{"cls":"all classes 1.00 at 0.990","conf":0.0194,"prec":0.475},{"cls":"all classes 1.00 at 0.990","conf":0.023,"prec":0.515},{"cls":"all classes 1.00 at 0.990","conf":0.028,"prec":0.55},{"cls":"all classes 1.00 at 0.990","conf":0.0356,"prec":0.582},{"cls":"all classes 1.00 at 0.990","conf":0.043,"prec":0.60},{"cls":"all classes 1.00 at 0.990","conf":0.053,"prec":0.617},{"cls":"all classes 1.00 at 0.990","conf":0.0655,"prec":0.634},{"cls":"all classes 1.00 at 0.990","conf":0.081,"prec":0.648},{"cls":"all classes 1.00 at 0.990","conf":0.0904,"prec":0.656},{"cls":"all classes 1.00 at 0.990","conf":0.114,"prec":0.672},{"cls":"all classes 1.00 at 0.990","conf":0.14,"prec":0.689},{"cls":"all classes 1.00 at 0.990","conf":0.165,"prec":0.702},{"cls":"all classes 1.00 at 0.990","conf":0.19,"prec":0.711},{"cls":"all classes 1.00 at 0.990","conf":0.215,"prec":0.72},{"cls":"all classes 1.00 at 0.990","conf":0.247,"prec":0.731},{"cls":"all classes 1.00 at 0.990","conf":0.28,"prec":0.742},{"cls":"all classes 1.00 at 0.990","conf":0.314,"prec":0.754},{"cls":"all classes 1.00 at 0.990","conf":0.347,"prec":0.765},{"cls":"all classes 1.00 at 0.990","conf":0.394,"prec":0.776},{"cls":"all classes 1.00 at 0.990","conf":0.42,"prec":0.784},{"cls":"all classes 1.00 at 0.990","conf":0.447,"prec":0.792},{"cls":"all classes 1.00 at 0.990","conf":0.48,"prec":0.799},{"cls":"all classes 1.00 at 0.990","conf":0.503,"prec":0.805},{"cls":"all classes 1.00 at 0.990","conf":0.52,"prec":0.815},{"cls":"all classes 1.00 at 0.990","conf":0.536,"prec":0.824},{"cls":"all classes 1.00 at 0.990","conf":0.569,"prec":0.831},{"cls":"all classes 1.00 at 0.990","conf":0.602,"prec":0.834},{"cls":"all classes 1.00 at 0.990","conf":0.645,"prec":0.839},{"cls":"all classes 1.00 at 0.990","conf":0.685,"prec":0.851},{"cls":"all classes 1.00 at 0.990","conf":0.735,"prec":0.869},{"cls":"all classes 1.00 at 0.990","conf":0.785,"prec":0.889},{"cls":"all classes 1.00 at 0.990","conf":0.835,"prec":0.903},{"cls":"all classes 1.00 at 0.990","conf":0.868,"prec":0.921},{"cls":"all classes 1.00 at 0.990","conf":0.888,"prec":0.937},{"cls":"all classes 1.00 at 0.990","conf":0.908,"prec":0.958},{"cls":"all classes 1.00 at 0.990","conf":0.928,"prec":0.976},{"cls":"all classes 1.00 at 0.990","conf":0.951,"prec":0.991},{"cls":"all classes 1.00 at 0.990","conf":0.974,"prec":0.997},{"cls":"all classes 1.00 at 0.990","conf":0.99,"prec":1.0},{"cls":"all classes 1.00 at 0.990","conf":1.0,"prec":1.0}
    ]
  },
  "layer": [
    {
      "data": {"name": "curves"},
      "mark": {"type": "line", "clip": true, "strokeJoin": "round", "strokeCap": "butt"},
      "encoding": {
        "x": {"field": "conf", "type": "quantitative", "title": "Confidence", "scale": {"domain": [0, 1], "nice": false, "zero": false},
              "axis": {"values": [0, 0.2, 0.4, 0.6, 0.8, 1.0], "format": ".1f", "labelPadding": 10, "titlePadding": 14}},
        "y": {"field": "prec", "type": "quantitative", "title": "Precision", "scale": {"domain": [0, 1], "nice": false, "zero": false},
              "axis": {"values": [0, 0.2, 0.4, 0.6, 0.8, 1.0], "format": ".1f", "labelPadding": 13, "titlePadding": 12}},
        "color": {
          "field": "cls", "type": "nominal",
          "scale": {
            "domain": ["Ancylostoma Spp", "Ascaris Lumbricoides", "Enterobius Vermicularis", "Fasciola Hepatica", "Hymenolepis", "Schistosoma", "Taenia Sp", "Trichuris Trichiura", "all classes 1.00 at 0.990"],
            "range": ["#1f77b4", "#ff7f0e", "#2ca02c", "#d62728", "#9467bd", "#8c564b", "#e377c2", "#7f7f7f", "#0000ff"]
          },
          "legend": {
            "orient": "none", "legendX": 1415, "legendY": 18, "title": null,
            "labelFontSize": 38.3, "labelFont": "DejaVu Sans", "labelColor": "black", "labelLimit": 0,
            "symbolType": "stroke", "symbolSize": 6400, "symbolOffset": -6, "labelOffset": 23, "clipHeight": 33,
            "padding": 14, "rowPadding": 16, "strokeColor": "#d6d6d6", "fillColor": "white", "cornerRadius": 7
          }
        },
        "strokeWidth": {
          "field": "cls", "type": "nominal",
          "scale": {
            "type": "ordinal",
            "domain": ["Ancylostoma Spp", "Ascaris Lumbricoides", "Enterobius Vermicularis", "Fasciola Hepatica", "Hymenolepis", "Schistosoma", "Taenia Sp", "Trichuris Trichiura", "all classes 1.00 at 0.990"],
            "range": [3.47, 3.47, 3.47, 3.47, 3.47, 3.47, 3.47, 3.47, 10.4]
          }
        }
      }
    },
    {
      "data": {"values": [{"label": "CSDN @人工智能_SYBH"}]},
      "mark": {"type": "text", "align": "right", "baseline": "middle", "fontSize": 41.5, "font": "Liberation Sans, Noto Sans CJK SC", "color": "#d9d9d9", "clip": false},
      "encoding": {
        "text": {"field": "label"},
        "x": {"datum": 1.539, "type": "quantitative", "scale": {"domain": [0, 1], "nice": false, "zero": false}, "title": "Confidence"},
        "y": {"datum": -0.091, "type": "quantitative", "scale": {"domain": [0, 1], "nice": false, "zero": false}, "title": "Precision"}
      }
    }
  ]
}
